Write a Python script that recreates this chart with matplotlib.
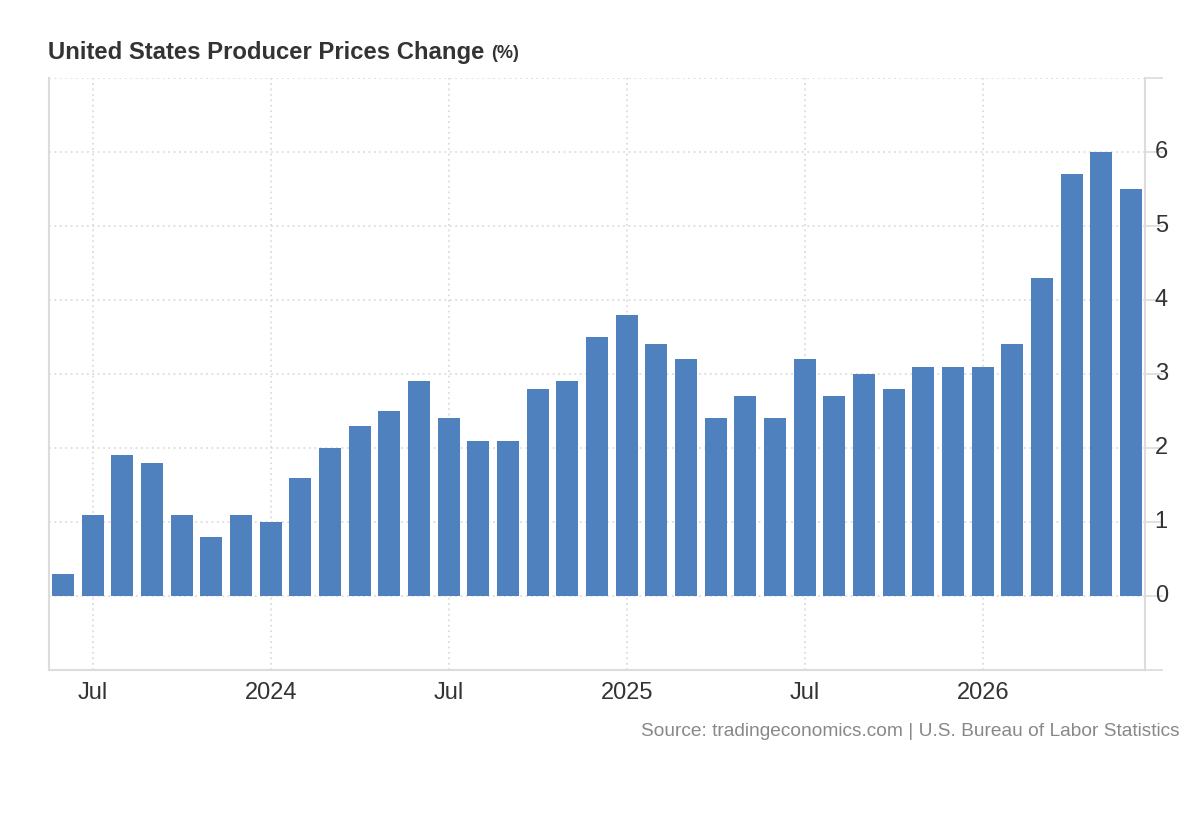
import matplotlib
matplotlib.use("Agg")
import matplotlib.pyplot as plt
import matplotlib.transforms as mtransforms
import numpy as np

plt.rcParams['font.family'] = ['Liberation Sans', 'DejaVu Sans']

months = ["Jun 2023", "Jul 2023", "Aug 2023", "Sep 2023", "Oct 2023", "Nov 2023", "Dec 2023",
          "Jan 2024", "Feb 2024", "Mar 2024", "Apr 2024", "May 2024", "Jun 2024",
          "Jul 2024", "Aug 2024", "Sep 2024", "Oct 2024", "Nov 2024", "Dec 2024",
          "Jan 2025", "Feb 2025", "Mar 2025", "Apr 2025", "May 2025", "Jun 2025",
          "Jul 2025", "Aug 2025", "Sep 2025", "Oct 2025", "Nov 2025", "Dec 2025",
          "Jan 2026", "Feb 2026", "Mar 2026", "Apr 2026", "May 2026", "Jun 2026"]
values = [0.3, 1.1, 1.9, 1.8, 1.1, 0.8, 1.1,
          1.0, 1.6, 2.0, 2.3, 2.5, 2.9,
          2.4, 2.1, 2.1, 2.8, 2.9, 3.5,
          3.8, 3.4, 3.2, 2.4, 2.7, 2.4,
          3.2, 2.7, 3.0, 2.8, 3.1, 3.1,
          3.1, 3.4, 4.3, 5.7, 6.0, 5.5]
tick_months = ["Jul 2023", "Jan 2024", "Jul 2024", "Jan 2025", "Jul 2025", "Jan 2026"]
tick_labels = ["Jul", "2024", "Jul", "2025", "Jul", "2026"]
y_ticks = [-1, 0, 1, 2, 3, 4, 5, 6, 7]
y_labels = ["", "0", "1", "2", "3", "4", "5", "6", ""]

title = "United States Producer Prices Change"
unit = "(%)"
source = "Source: tradingeconomics.com | U.S. Bureau of Labor Statistics"

W, H = 1200, 820
fig = plt.figure(figsize=(W / 100, H / 100), dpi=100)
ax = fig.add_axes([49 / W, (H - 671) / H, (1145 - 49) / W, (671 - 79) / H])

x = np.arange(len(months))
ax.bar(x, values, width=0.74, color="#4E81BD", zorder=3)

ax.set_xlim(-0.47, len(months) - 0.53)
ax.set_ylim(-1, 7)

grid_c = "#dcdcdc"
ax.set_xticks([months.index(m) for m in tick_months])
ax.set_xticklabels(tick_labels, fontsize=17, color="#333333")
ax.set_yticks(y_ticks)
ax.set_yticklabels(y_labels, fontsize=17, color="#333333")
ax.yaxis.tick_right()
ax.tick_params(axis="x", length=0, pad=8)
ax.tick_params(axis="y", length=13, width=1.2, color=grid_c, pad=-6)
ax.grid(True, axis="both", linestyle=(0, (1, 2)), color=grid_c, linewidth=1.3, zorder=0)

for s in ["left", "bottom", "right"]:
    ax.spines[s].set_color(grid_c)
    ax.spines[s].set_linewidth(1.5)
ax.spines["top"].set_visible(False)

offset = mtransforms.ScaledTranslation(0, 4 / 100, fig.dpi_scale_trans)
for lbl in ax.get_yticklabels():
    lbl.set_transform(lbl.get_transform() + offset)

fig.text(48 / W, 1 - 53 / H, title, fontsize=17.2, fontweight="bold", color="#333333",
         va="center", ha="left")
t = fig.text(48 / W, 1 - 53 / H, title + " ", fontsize=17.2, fontweight="bold", alpha=0,
             va="center", ha="left")
fig.canvas.draw()
bb = t.get_window_extent()
fig.text(bb.x1 / W, 1 - 54 / H, unit, fontsize=13, fontweight="bold", color="#333333",
         va="center", ha="left")

fig.text(1180 / W, 1 - 732 / H, source, fontsize=13.8, color="#888888", ha="right", va="center")

fig.savefig("out.png", dpi=100)
